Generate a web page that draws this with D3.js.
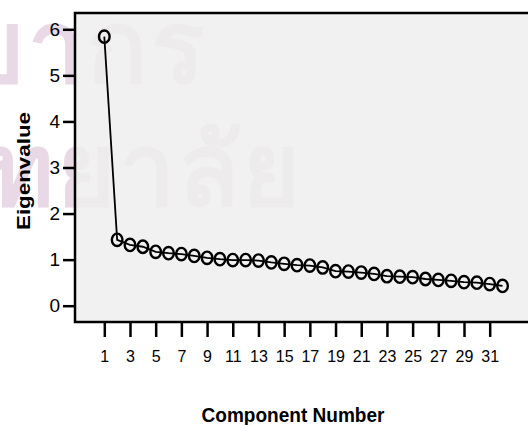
<!DOCTYPE html>
<html>
<head>
<meta charset="utf-8">
<script src="https://cdn.jsdelivr.net/npm/d3@7"></script>
<style>
  html, body { margin: 0; padding: 0; background: #ffffff; }
  svg { display: block; }
  text { font-family: "Liberation Sans", Arial, sans-serif; }
</style>
</head>
<body>
<svg id="chart" width="528" height="425"></svg>
<script>
// Scree plot: eigenvalue of each extracted component
const components = d3.range(1, 33);
const eigenvalues = [
  5.84, 1.43, 1.32, 1.28, 1.17, 1.14, 1.12, 1.08, 1.04, 1.01,
  0.99, 0.99, 0.98, 0.94, 0.91, 0.88, 0.87, 0.83, 0.75, 0.74,
  0.72, 0.69, 0.64, 0.63, 0.62, 0.58, 0.56, 0.54, 0.51, 0.50,
  0.47, 0.43
];
const xTickValues = d3.range(1, 32, 2);
const yTickValues = [0, 1, 2, 3, 4, 5, 6];
const watermarkLines = ["ทรัพยากร", "วิทยาลัย"];

const svg = d3.select("#chart");

const frame = { left: 75, top: 13, right: 532, bottom: 322 };

const x = d3.scaleLinear().domain([1, 31]).range([104.3, 489.7]);
const y = d3.scaleLinear().domain([0, 6]).range([305.7, 29.3]);

// background watermark
const wm = svg.append("g")
  .attr("fill", "#e9d8e5")
  .style("font-family", "'Noto Sans Thai', 'Noto Sans', 'DejaVu Sans', sans-serif")
  .style("font-weight", "bold")
  .style("font-size", "100px")
  .style("letter-spacing", "3px");
wm.append("text").attr("x", 208).attr("y", 82).attr("text-anchor", "end").text(watermarkLines[0]);
wm.append("text").attr("x", 304).attr("y", 205).attr("text-anchor", "end").text(watermarkLines[1]);

// plot frame
svg.append("rect")
  .attr("x", frame.left).attr("y", frame.top)
  .attr("width", frame.right - frame.left)
  .attr("height", frame.bottom - frame.top)
  .attr("fill", "#efefef").attr("fill-opacity", 0.85)
  .attr("stroke", "#000").attr("stroke-width", 2.5);

// y axis
const yAxis = svg.append("g")
  .attr("transform", `translate(${frame.left},0)`)
  .call(d3.axisLeft(y).tickValues(yTickValues).tickSize(12).tickPadding(3).tickFormat(d3.format("d")));
yAxis.select(".domain").remove();
yAxis.selectAll(".tick line").attr("stroke", "#000").attr("stroke-width", 2.5);
yAxis.selectAll(".tick text")
  .attr("fill", "#000")
  .style("font-family", "'Liberation Sans', Arial, sans-serif")
  .style("font-size", "19px");

// x axis
const xAxis = svg.append("g")
  .attr("transform", `translate(0,${frame.bottom})`)
  .call(d3.axisBottom(x).tickValues(xTickValues).tickSize(15).tickPadding(14).tickFormat(d3.format("d")));
xAxis.select(".domain").remove();
xAxis.selectAll(".tick line").attr("stroke", "#000").attr("stroke-width", 2.5);
xAxis.selectAll(".tick text")
  .attr("fill", "#000")
  .style("font-family", "'Liberation Sans Narrow', 'Liberation Sans', Arial, sans-serif")
  .style("font-size", "16px");

// axis titles
svg.append("text")
  .attr("x", 293).attr("y", 421.5)
  .attr("text-anchor", "middle")
  .attr("textLength", 183).attr("lengthAdjust", "spacingAndGlyphs")
  .style("font-weight", "bold").style("font-size", "21px")
  .text("Component Number");

svg.append("text")
  .attr("transform", "translate(29.5,171) rotate(-90)")
  .attr("text-anchor", "middle")
  .attr("textLength", 118).attr("lengthAdjust", "spacingAndGlyphs")
  .style("font-weight", "bold").style("font-size", "19px")
  .text("Eigenvalue");

// line + markers
const data = components.map((c, i) => ({ c, v: eigenvalues[i] }));

svg.append("path")
  .datum(data)
  .attr("fill", "none")
  .attr("stroke", "#000")
  .attr("stroke-width", 1.8)
  .attr("d", d3.line().x(d => x(d.c)).y(d => y(d.v)));

svg.append("g")
  .selectAll("ellipse")
  .data(data)
  .join("ellipse")
  .attr("cx", d => x(d.c))
  .attr("cy", d => y(d.v))
  .attr("rx", 5.3)
  .attr("ry", 6.2)
  .attr("fill", "none")
  .attr("stroke", "#000")
  .attr("stroke-width", 2.4);
</script>
</body>
</html>
